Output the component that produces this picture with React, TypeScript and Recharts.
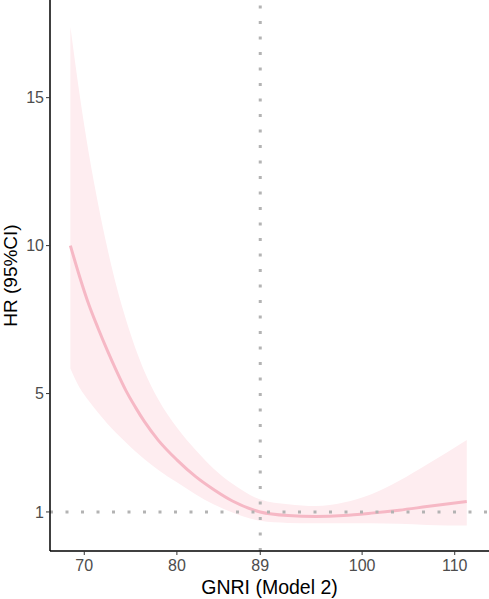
import { ComposedChart, Area, Line, XAxis, YAxis, ReferenceLine } from "recharts";

// values (GNRI vs HR with 95% CI)
const gnri = [68.5, 69.5, 70.5, 71.5, 72.5, 73.5, 74.5, 75.5, 76.5, 78, 80, 82, 84, 86, 89, 92, 95, 98, 101, 104, 107, 111.3];
const hr = [10.0, 8.95, 8.0, 7.2, 6.45, 5.75, 5.1, 4.55, 4.05, 3.42, 2.76, 2.2, 1.75, 1.37, 1.0, 0.88, 0.85, 0.88, 0.96, 1.06, 1.18, 1.35];
const upper = [17.4, 15.1, 13.1, 11.4, 9.9, 8.6, 7.5, 6.55, 5.75, 4.8, 3.85, 3.1, 2.45, 1.95, 1.42, 1.26, 1.2, 1.32, 1.6, 2.05, 2.6, 3.43];
const lower = [5.85, 5.2, 4.75, 4.35, 3.98, 3.65, 3.35, 3.05, 2.78, 2.42, 2.0, 1.6, 1.25, 0.98, 0.7, 0.63, 0.62, 0.62, 0.62, 0.6, 0.56, 0.54];

const xTicks = [70, 80, 89, 100, 110];
const yTicks = [1, 5, 10, 15];
const cutoff = 89;

const data = gnri.map((x, i) => ({ x, hr: hr[i], ci: [lower[i], upper[i]] }));

const font = "'Liberation Sans', Arial, sans-serif";

export default function App() {
  return (
    <div style={{ position: "absolute", left: 0, top: 0, width: 489, height: 599, background: "#fff" }}>
      <ComposedChart
        width={489}
        height={599}
        data={data}
        margin={{ top: 0, right: 0, bottom: 0, left: 0 }}
        style={{ fontFamily: font }}
      >
        <XAxis
          dataKey="x"
          type="number"
          domain={[66.3, 113.7]}
          ticks={xTicks}
          height={48}
          tickSize={4}
          tickMargin={5}
          axisLine={{ stroke: "#000", strokeWidth: 1.5 }}
          tickLine={{ stroke: "#333" }}
          tick={{ fill: "#4d4d4d", fontSize: 16 }}
          allowDataOverflow
          label={{ value: "GNRI (Model 2)", position: "insideBottom", offset: 5, fill: "#000", fontSize: 19.5 }}
        />
        <YAxis
          type="number"
          domain={[-0.32, 18.3]}
          ticks={yTicks}
          width={50}
          tickSize={4}
          tickMargin={2}
          axisLine={{ stroke: "#000", strokeWidth: 1.5 }}
          tickLine={{ stroke: "#333" }}
          tick={{ fill: "#4d4d4d", fontSize: 16 }}
          allowDataOverflow
          label={{
            content: (p: any) => {
              const cy = p.viewBox.y + p.viewBox.height / 2;
              return (
                <text
                  x={17}
                  y={cy}
                  transform={`rotate(-90 17 ${cy})`}
                  textAnchor="middle"
                  fill="#000"
                  fontSize={19}
                  fontFamily={font}
                >
                  HR (95%CI)
                </text>
              );
            },
          }}
        />
        <Area
          dataKey="ci"
          type="monotone"
          fill="#feedf0"
          fillOpacity={1}
          stroke="none"
          isAnimationActive={false}
          activeDot={false}
        />
        <Line
          dataKey="hr"
          type="monotone"
          stroke="#f6b8c5"
          strokeWidth={3}
          dot={false}
          activeDot={false}
          isAnimationActive={false}
        />
        <ReferenceLine x={cutoff} stroke="#b3b3b3" strokeWidth={3} strokeDasharray="3 12.5" />
        <ReferenceLine y={1} stroke="#b3b3b3" strokeWidth={3} strokeDasharray="3 12.5" />
      </ComposedChart>
    </div>
  );
}
